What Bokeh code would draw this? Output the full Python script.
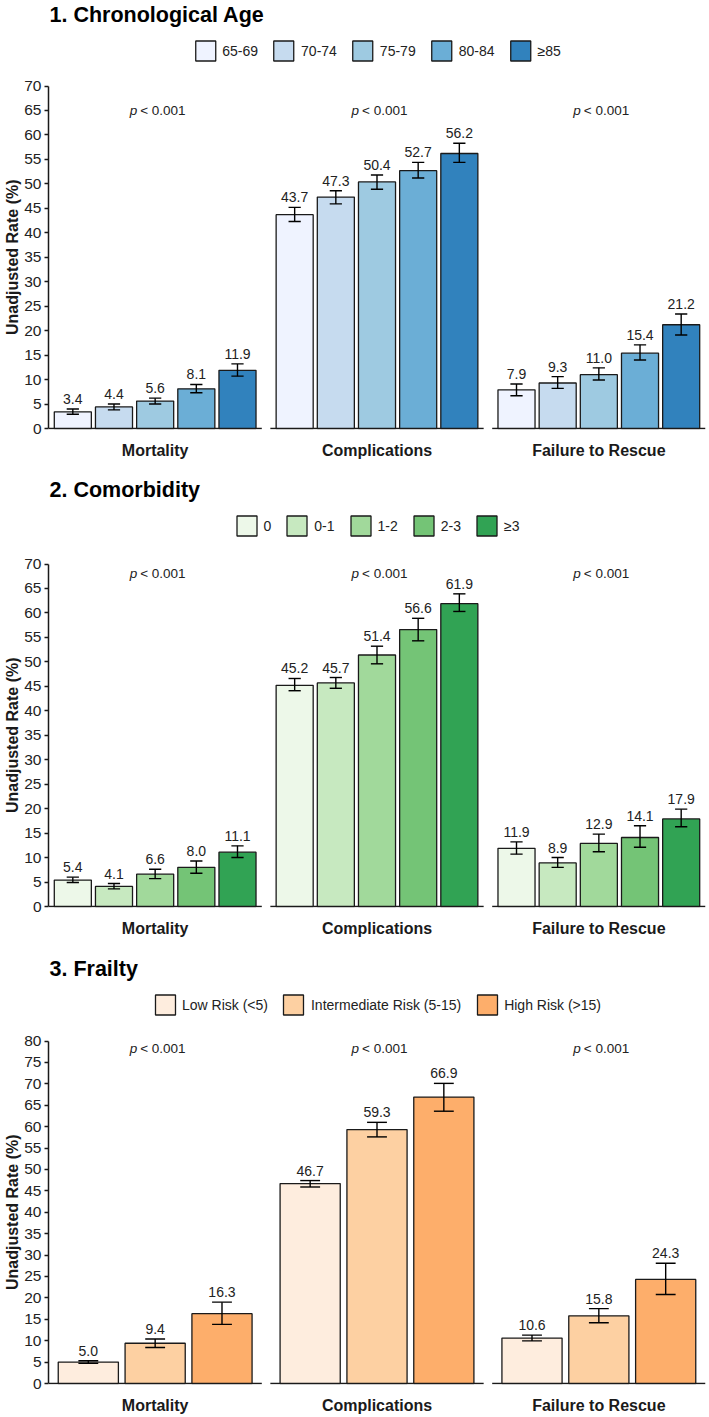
from bokeh.plotting import figure
from bokeh.models import (ColumnDataSource, Legend, LegendItem, FixedTicker, Range1d,
                          Label, Title)
from bokeh.layouts import column
from bokeh.core.properties import value
from bokeh.embed import file_html
from bokeh.resources import INLINE

FONT = "Liberation Sans"
INK = "#1a1a1a"

outcomes = ["Mortality", "Complications", "Failure to Rescue"]
p_values = ["< 0.001", "< 0.001", "< 0.001"]

# 1. Chronological age
age_groups = ["65-69", "70-74", "75-79", "80-84", "≥85"]
age_colors = ["#eff3ff", "#c6dbef", "#9ecae1", "#6baed6", "#3182bd"]
age_mortality = [3.4, 4.4, 5.6, 8.1, 11.9]
age_mortality_lo = [2.9, 3.8, 5.0, 7.3, 10.7]
age_mortality_hi = [4.0, 5.0, 6.2, 9.0, 13.2]
age_complications = [43.7, 47.3, 50.4, 52.7, 56.2]
age_complications_lo = [42.3, 45.9, 48.9, 51.2, 54.4]
age_complications_hi = [45.2, 48.6, 51.8, 54.4, 58.3]
age_ftr = [7.9, 9.3, 11.0, 15.4, 21.2]
age_ftr_lo = [6.7, 8.2, 9.9, 14.0, 19.1]
age_ftr_hi = [9.1, 10.6, 12.4, 17.1, 23.4]
age_ticks = list(range(0, 71, 5))

# 2. Comorbidity
com_groups = ["0", "0-1", "1-2", "2-3", "≥3"]
com_colors = ["#edf8e9", "#c7e9c0", "#a1d99b", "#74c476", "#31a354"]
com_mortality = [5.4, 4.1, 6.6, 8.0, 11.1]
com_mortality_lo = [4.9, 3.6, 5.7, 6.8, 10.0]
com_mortality_hi = [6.0, 4.7, 7.6, 9.3, 12.4]
com_complications = [45.2, 45.7, 51.4, 56.6, 61.9]
com_complications_lo = [44.1, 44.6, 49.6, 54.3, 60.3]
com_complications_hi = [46.6, 46.8, 53.2, 58.9, 63.9]
com_ftr = [11.9, 8.9, 12.9, 14.1, 17.9]
com_ftr_lo = [10.7, 8.0, 11.2, 12.1, 16.3]
com_ftr_hi = [13.2, 10.0, 14.8, 16.5, 19.9]
com_ticks = list(range(0, 71, 5))

# 3. Frailty
fra_groups = ["Low Risk (<5)", "Intermediate Risk (5-15)", "High Risk (>15)"]
fra_colors = ["#feedde", "#fdd0a2", "#fdae6b"]
fra_mortality = [5.0, 9.4, 16.3]
fra_mortality_lo = [4.7, 8.4, 13.8]
fra_mortality_hi = [5.3, 10.4, 19.0]
fra_complications = [46.7, 59.3, 66.9]
fra_complications_lo = [45.9, 57.6, 63.6]
fra_complications_hi = [47.4, 61.0, 70.1]
fra_ftr = [10.6, 15.8, 24.3]
fra_ftr_lo = [9.95, 14.2, 20.8]
fra_ftr_hi = [11.3, 17.5, 28.1]
fra_ticks = list(range(0, 81, 5))

GAP = 0.04          # space between outcome panels, in panel widths
AXIS_PX = 342.5     # pixel length of the value axis
YLABEL = "Unadjusted Rate (%)"
YLABEL_PX = 16


def section(title, groups, colors, rates, lows, highs, ticks, p_y,
            height, bottom, span):
    n = len(groups)
    y_max = ticks[-1]
    ppu = AXIS_PX / y_max
    frame_h = height - bottom
    y0 = -1.0 / ppu
    y1 = y0 + frame_h / ppu
    p = figure(width=709, height=height, output_backend="svg", toolbar_location=None,
               x_range=Range1d(0, 3 + 2 * GAP), y_range=Range1d(y0, y1),
               min_border_left=48, min_border_right=4, min_border_top=0,
               min_border_bottom=bottom)
    p.outline_line_color = None
    p.xgrid.visible = False
    p.ygrid.visible = False
    p.background_fill_color = "white"

    starts = [k * (1 + GAP) for k in range(3)]
    centers = [s + 0.5 for s in starts]
    pitch = span / n
    bw = pitch * 0.9
    cap = bw * 0.33

    # panel baselines
    p.segment(x0=starts, y0=[0] * 3, x1=[s + 1 for s in starts], y1=[0] * 3,
              line_color=INK, line_width=1.5)

    items = []
    for i, g in enumerate(groups):
        xs = [c + (i - (n - 1) / 2) * pitch for c in centers]
        tops = [rates[k][i] for k in range(3)]
        lo = [lows[k][i] for k in range(3)]
        hi = [highs[k][i] for k in range(3)]
        src = ColumnDataSource(dict(
            x=xs, top=tops, lo=lo, hi=hi,
            xl=[x - cap / 2 for x in xs], xr=[x + cap / 2 for x in xs],
            label=[f"{t:.1f}" for t in tops]))
        r = p.vbar(x="x", top="top", bottom=0, width=bw, source=src,
                   fill_color=colors[i], line_color=INK, line_width=1.3)
        p.segment(x0="x", y0="lo", x1="x", y1="hi", source=src,
                  line_color="black", line_width=1.4)
        p.segment(x0="xl", y0="lo", x1="xr", y1="lo", source=src,
                  line_color="black", line_width=1.4)
        p.segment(x0="xl", y0="hi", x1="xr", y1="hi", source=src,
                  line_color="black", line_width=1.4)
        p.text(x="x", y="hi", text="label", source=src, text_align="center",
               text_baseline="alphabetic", y_offset=-10, text_font=value(FONT),
               text_font_size="14px", text_color="#222222")
        items.append(LegendItem(label=g, renderers=[r]))

    # significance notes
    p.text(x=centers, y=[p_y] * 3, text=["p"] * 3, text_align="right",
           text_baseline="middle", x_offset=-18, text_font=value(FONT),
           text_font_style="italic", text_font_size="13.5px", text_color="#222222")
    p.text(x=centers, y=[p_y] * 3, text=p_values, text_align="left",
           text_baseline="middle", x_offset=-15, text_font=value(FONT),
           text_font_size="13.5px", text_color="#222222")

    legend = Legend(items=items, orientation="horizontal", location="top",
                    margin=38, padding=0, glyph_width=25, glyph_height=25,
                    label_width=1, label_standoff=5, spacing=13,
                    label_text_font=FONT, label_text_font_size="14px",
                    label_text_color="#222222",
                    border_line_alpha=0, background_fill_alpha=0)
    p.add_layout(legend)

    p.add_layout(Label(x=0, y=y1 - 14 / ppu, x_offset=1, text=title,
                       text_baseline="middle", text_font=FONT,
                       text_font_size="21.5px", text_font_style="bold",
                       text_color="black"))

    # value-axis title, shifted so that it is centred on the 0..max span
    half_len = 0.5 * 9.72 * YLABEL_PX
    p.add_layout(Title(text=YLABEL, align="left", offset=AXIS_PX / 2 + 1 - half_len,
                       standoff=1, text_font=FONT, text_font_size=f"{YLABEL_PX}px",
                       text_font_style="bold", text_color=INK), "left")

    ya = p.yaxis[0]
    ya.ticker = FixedTicker(ticks=ticks)
    ya.bounds = (0, y_max)
    ya.major_label_text_font = FONT
    ya.major_label_text_font_size = "15.5px"
    ya.major_label_text_color = "#222222"
    ya.major_label_standoff = 3
    ya.major_tick_out = 4
    ya.major_tick_in = 0
    ya.minor_tick_out = 0
    ya.minor_tick_in = 0
    ya.axis_line_color = INK
    ya.axis_line_width = 1.5
    ya.major_tick_line_color = INK
    ya.major_tick_line_width = 1.3

    xa = p.xaxis[0]
    xa.ticker = FixedTicker(ticks=centers)
    xa.major_label_overrides = {c: o for c, o in zip(centers, outcomes)}
    xa.axis_line_color = None
    xa.major_tick_line_color = None
    xa.minor_tick_line_color = None
    xa.major_label_standoff = 6
    xa.major_label_text_font = FONT
    xa.major_label_text_font_style = "bold"
    xa.major_label_text_font_size = "16px"
    xa.major_label_text_color = INK
    return p


p1 = section("1. Chronological Age", age_groups, age_colors,
             [age_mortality, age_complications, age_ftr],
             [age_mortality_lo, age_complications_lo, age_ftr_lo],
             [age_mortality_hi, age_complications_hi, age_ftr_hi],
             age_ticks, 65, 475, 46, 0.965)
p2 = section("2. Comorbidity", com_groups, com_colors,
             [com_mortality, com_complications, com_ftr],
             [com_mortality_lo, com_complications_lo, com_ftr_lo],
             [com_mortality_hi, com_complications_hi, com_ftr_hi],
             com_ticks, 68, 479, 47, 0.965)
p3 = section("3. Frailty", fra_groups, fra_colors,
             [fra_mortality, fra_complications, fra_ftr],
             [fra_mortality_lo, fra_complications_lo, fra_ftr_lo],
             [fra_mortality_hi, fra_complications_hi, fra_ftr_hi],
             fra_ticks, 78.2, 463, 33, 0.94)

page = column(p1, p2, p3)
open("out.html", "w").write(file_html(page, INLINE))
